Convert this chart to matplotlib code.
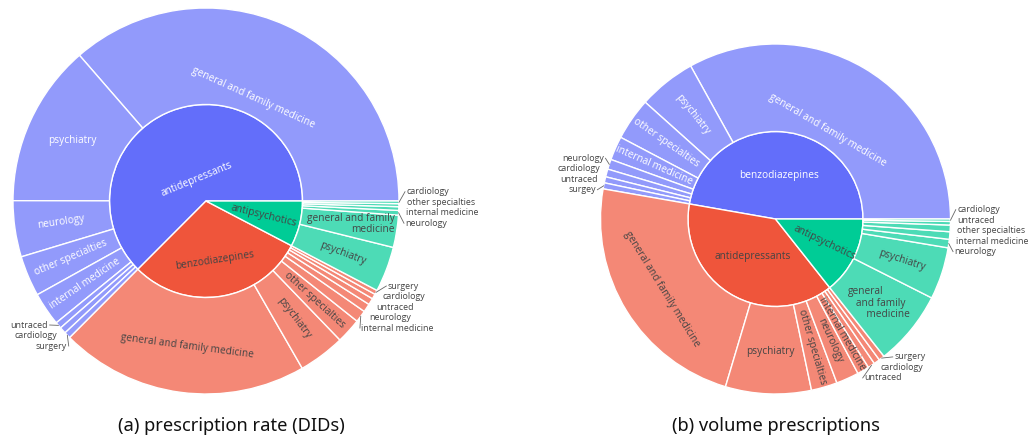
import numpy as np
import matplotlib
matplotlib.use("Agg")
import matplotlib.pyplot as plt
import matplotlib.colors as mcolors

# shares of each drug class by prescriber specialty (percent of total)
a_groups = ["antidepressants", "benzodiazepines", "antipsychotics"]
a_specialties = [
    ["general and family medicine", "psychiatry", "neurology", "other specialties",
     "internal medicine", "untraced", "cardiology", "surgery"],
    ["general and family medicine", "psychiatry", "other specialties", "internal medicine",
     "neurology", "untraced", "cardiology", "surgery"],
    ["psychiatry", "general and family medicine", "neurology", "internal medicine",
     "other specialties", "cardiology"],
]
a_values = [
    [36.4, 13.6, 4.7, 3.4, 2.8, 0.55, 0.55, 0.55],
    [20.8, 3.9, 2.1, 1.0, 0.7, 0.55, 0.42, 0.36],
    [3.8, 2.7, 0.39, 0.31, 0.25, 0.22],
]

b_groups = ["benzodiazepines", "antidepressants", "antipsychotics"]
b_specialties = [
    ["general and family medicine", "psychiatry", "other specialties", "internal medicine",
     "neurology", "cardiology", "untraced", "surgey"],
    ["general and family medicine", "psychiatry", "other specialties", "neurology",
     "internal medicine", "untraced", "cardiology", "surgery"],
    ["general and family medicine", "psychiatry", "neurology", "internal medicine",
     "other specialties", "untraced", "cardiology"],
]
b_values = [
    [33.0, 5.3, 3.9, 2.2, 0.92, 0.72, 0.56, 0.56],
    [23.1, 7.9, 2.4, 2.1, 1.1, 0.64, 0.56, 0.53],
    [6.9, 4.8, 0.78, 0.69, 0.61, 0.33, 0.22],
]

palette = ["#636efa", "#ef553b", "#00cc96"]
dark = "#444444"
fs = 7.3
fs_out = 6.4
plt.rcParams["font.family"] = ["Open Sans", "DejaVu Sans"]


def lighten(c, f=0.3):
    r, g, b = mcolors.to_rgb(c)
    return (r + (1 - r) * f, g + (1 - g) * f, b + (1 - b) * f)


def rot_for(mid, mode):
    if mode == "h":
        return 0
    rot = mid - 90 if mode == "t" else mid
    return ((rot + 90) % 180) - 90


def sunburst(ax, cx, cy, R, groups, specs, vals, inner_modes, wrap):
    outer_vals = [v for vs in vals for v in vs]
    inner_vals = [sum(vs) for vs in vals]
    outer_cols = []
    for i, vs in enumerate(vals):
        outer_cols += [lighten(palette[i])] * len(vs)
    wp = dict(edgecolor="white", linewidth=1.0)
    w_in, _ = ax.pie(inner_vals, radius=R / 2, center=(cx, cy), startangle=0,
                     counterclock=True, colors=palette,
                     wedgeprops=dict(width=R / 2, **wp))
    w_out, _ = ax.pie(outer_vals, radius=R, center=(cx, cy), startangle=0,
                      counterclock=True, colors=outer_cols,
                      wedgeprops=dict(width=R / 2, **wp))

    # inner labels
    for i, w in enumerate(w_in):
        mid = (w.theta1 + w.theta2) / 2
        span = w.theta2 - w.theta1
        if span > 200:
            r = 0.12 * R
        elif inner_modes[i] == "h":
            r = 0.25 * R
        else:
            r = 0.31 * R
        tc = "white" if i == 0 else dark
        ax.text(cx + r * np.cos(np.radians(mid)), cy + r * np.sin(np.radians(mid)),
                groups[i], rotation=rot_for(mid, inner_modes[i]), rotation_mode="anchor",
                ha="center", va="center", color=tc, fontsize=fs)

    # outer labels
    k = 0
    for i, vs in enumerate(vals):
        tc = "white" if i == 0 else dark
        outside = []
        for j, v in enumerate(vs):
            w = w_out[k]
            k += 1
            mid = (w.theta1 + w.theta2) / 2
            span = w.theta2 - w.theta1
            name = specs[i][j]
            if v < 1.05:
                outside.append((mid, name))
                continue
            key = (groups[i], name)
            if key in wrap:
                mode, txt = "h", wrap[key]
            else:
                mode = "t" if span > 60 else "r"
                txt = name
            if key == ("antidepressants", "psychiatry"):
                mode = "h"
            r = 0.59 * R if span > 100 else 0.76 * R
            ax.text(cx + r * np.cos(np.radians(mid)), cy + r * np.sin(np.radians(mid)),
                    txt, rotation=rot_for(mid, mode), rotation_mode="anchor",
                    ha="center", va="center", color=tc, fontsize=fs,
                    multialignment="right" if txt.count("\n") == 1 else "left",
                    linespacing=1.05)
        if not outside:
            continue
        # outside labels stacked next to the small slices
        rt = 1.04 * R
        nat = [rt * np.sin(np.radians(m)) for m, _ in outside]
        order = np.argsort(nat)[::-1]
        mean = np.mean(nat)
        n = len(outside)
        step = 10.5
        sign = 1 if np.cos(np.radians(np.mean([m for m, _ in outside]))) > 0 else -1
        for rank, idx in enumerate(order):
            m, name = outside[idx]
            dy = mean + (n - 1) / 2 * step - rank * step
            dx = sign * np.sqrt(max(rt ** 2 - dy ** 2, 0))
            ax.text(cx + dx, cy + dy, name, ha="left" if sign > 0 else "right",
                    va="center", color=dark, fontsize=fs_out)
            if rank == 0 or rank == n - 1:
                ex = cx + R * np.cos(np.radians(m))
                ey = cy + R * np.sin(np.radians(m))
                ax.plot([ex, cx + dx - sign * 1.5], [ey, cy + dy], color="#666666", lw=0.6)


fig = plt.figure(figsize=(10.28, 4.40), dpi=100)
ax = fig.add_axes([0, 0, 1, 1])

sunburst(ax, 206, 239, 193, a_groups, a_specialties, a_values, ["t", "t", "r"],
         {("antipsychotics", "general and family medicine"): "general and family\nmedicine"})
sunburst(ax, 775.5, 221, 175, b_groups, b_specialties, b_values, ["h", "h", "r"],
         {("antipsychotics", "general and family medicine"): "general\n   and family\n       medicine"})

ax.text(231, 14, "(a) prescription rate (DIDs)", ha="center", va="center",
        fontsize=13.2, family="Noto Sans", color="#111111")
ax.text(776, 14, "(b) volume prescriptions", ha="center", va="center",
        fontsize=13.2, family="Noto Sans", color="#111111")

ax.set_xlim(0, 1028)
ax.set_ylim(0, 440)
ax.set_aspect("equal")
ax.set_axis_off()
fig.savefig("out.png", dpi=100)
